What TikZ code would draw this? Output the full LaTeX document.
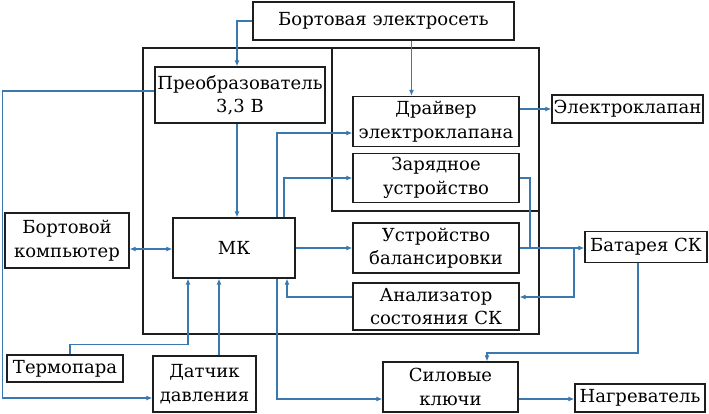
\documentclass[tikz,border=0pt]{standalone}
\usepackage{fontspec}
\setmainfont{DejaVu Serif}
\newfontfamily\boxfont{DejaVu Serif}
\usetikzlibrary{arrows.meta,calc}
\definecolor{lineblue}{HTML}{3A78B0}
\definecolor{boxgray}{HTML}{1E1E1E}
\begin{document}
\begin{tikzpicture}[x=1pt,y=-1pt,
  box/.style={draw=boxgray,line width=1.3pt,inner sep=0pt,align=center,fill=white,
    font=\boxfont\fontsize{18}{23.5}\selectfont},
  frame/.style={draw=boxgray,line width=1.3pt,inner sep=0pt},
  conn/.style={draw=lineblue,line width=1.1pt},
  tip/.tip={Latex[length=6pt,width=5pt]},
  arr/.style={conn,-tip},
  ]
\useasboundingbox (0,0) rectangle (709,414);
% frames
\node[frame,minimum width=396pt,minimum height=286pt] (outer) at (341,191) {};
\node[frame,minimum width=207pt,minimum height=163pt] (inner) at (435.5,129.5) {};
% boxes
\node[box,minimum width=261pt,minimum height=38pt] (net) at (383.5,21) {Бортовая электросеть};
\node[box,minimum width=170pt,minimum height=56pt] (conv) at (240,95) {Преобразователь\\3,3 В};
\node[box,minimum width=166pt,minimum height=50pt] (drv) at (436,121.5) {Драйвер\\электроклапана};
\node[box,minimum width=151pt,minimum height=28pt] (ek) at (627.5,109) {Электроклапан};
\node[box,minimum width=166pt,minimum height=49pt] (chg) at (436,178) {Зарядное\\устройство};
\node[box,minimum width=124pt,minimum height=55pt] (pc) at (67,240.5) {Бортовой\\компьютер};
\node[box,minimum width=122pt,minimum height=60pt] (mk) at (234,248) {МК};
\node[box,minimum width=166pt,minimum height=50pt] (bal) at (436,248) {Устройство\\балансировки};
\node[box,minimum width=122pt,minimum height=31pt] (bat) at (646,247) {Батарея СК};
\node[box,minimum width=166pt,minimum height=47pt] (anl) at (436,306.5) {Анализатор\\состояния СК};
\node[box,minimum width=116pt,minimum height=27pt] (tp) at (65,368.5) {Термопара};
\node[box,minimum width=103pt,minimum height=56pt] (dp) at (204.5,384) {Датчик\\давления};
\node[box,minimum width=135pt,minimum height=50pt] (sk) at (450.5,387) {Силовые\\ключи};
\node[box,minimum width=130pt,minimum height=28pt] (hg) at (640,398) {Нагреватель};
% helper coordinates
\coordinate (l1) at (2.5,91);
\coordinate (l2) at (2.5,398);
\coordinate (m1) at (277,133);
\coordinate (m2) at (284,0);
\coordinate (c1) at (530,0);
\coordinate (b1) at (574,0);
\coordinate (b2) at (0,353);
% connectors
\draw[arr] (net.west) -| ([xshift=-3pt]conv.north);
\draw[arr] ([xshift=28pt]net.south) -- ([xshift=28pt]net.south |- drv.north);
\draw[arr] ([xshift=-3pt]conv.south) -- ([xshift=-3pt]conv.south |- mk.north);
\draw[arr] ([yshift=4pt]conv.west) -- (l1) -- (l2) -- (l2 -| dp.west);
\draw[conn,tip-tip] ([yshift=-1pt]mk.west) -- ([yshift=-1pt]mk.west -| pc.east);
\draw[arr] (mk.north -| m1) -- (m1) -- (m1 -| drv.west);
\draw[arr] (mk.north -| m2) |- (chg.west);
\draw[arr] (mk.east) -- (mk.east -| bal.west);
\draw[arr] (ek.west -| drv.east) -- (ek.west);
\draw[conn] (chg.east) -| (c1 |- bal.east);
\draw[arr] (bal.east) -- (bal.east -| bat.west);
\draw[arr] (b1 |- bal.east) |- ([yshift=9.5pt]anl.east);
\draw[arr] ([yshift=9.5pt]anl.west) -| ([xshift=53pt]mk.south);
\draw[arr] ([xshift=5pt]tp.north) -- ++(0,-10) -| ([xshift=-46pt]mk.south);
\draw[arr] ([xshift=14.5pt]dp.north) -- ([xshift=14.5pt]dp.north |- mk.south);
\draw[arr] (mk.south -| m1) |- ([yshift=-12pt]sk.west);
\draw[arr] ([xshift=-8pt]bat.south) |- ([xshift=36.5pt]sk.north |- b2) -- ([xshift=36.5pt]sk.north);
\draw[arr] ([yshift=-12pt]sk.east) -- ([yshift=-12pt]sk.east -| hg.west);
\end{tikzpicture}
\end{document}
